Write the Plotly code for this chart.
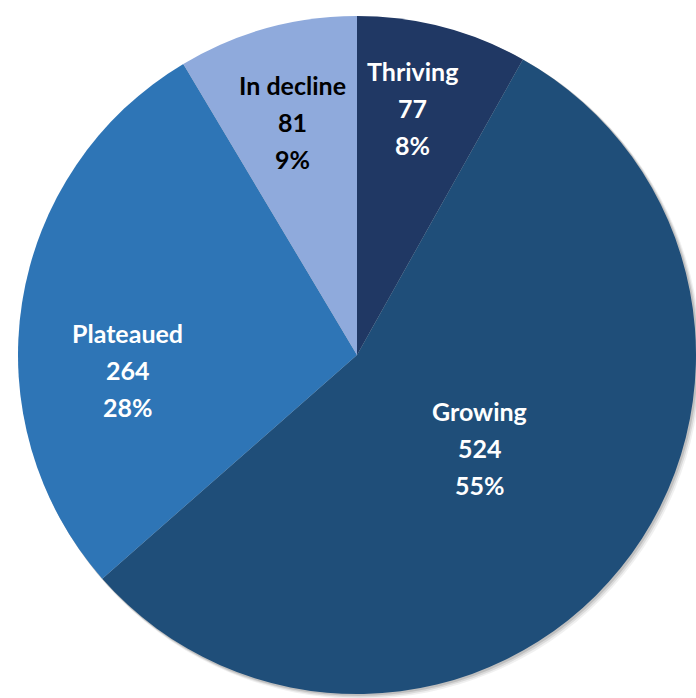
import math
import plotly.graph_objects as go

# Data
categories = ["Thriving", "Growing", "Plateaued", "In decline"]
values = [77, 524, 264, 81]

# Styles
colors = ["#203864", "#1F4E79", "#2E75B6", "#8FAADC"]
text_colors = ["white", "white", "white", "black"]
label_radius_frac = [0.746, 0.454, 0.677, 0.714]
label_angle_offset = [-2.0, -2.0, -12.7, 0.0]

W, H = 696, 698
dom_x = [18 / W, 1.0]
dom_y = [1 / H, 685 / H]

fig = go.Figure(go.Pie(
    labels=categories,
    values=values,
    marker=dict(colors=colors, line=dict(width=0)),
    sort=False,
    direction="clockwise",
    rotation=0,
    textinfo="none",
    hoverinfo="label+value+percent",
    domain=dict(x=dom_x, y=dom_y),
    showlegend=False,
))

# geometry for label placement derived from domain
cx = (dom_x[0] + dom_x[1]) / 2 * W
cy = H - (dom_y[0] + dom_y[1]) / 2 * H
R = min((dom_x[1] - dom_x[0]) * W, (dom_y[1] - dom_y[0]) * H) / 2

# soft shadow behind pie
for off, op in [(5, 0.06), (3.5, 0.09), (2, 0.12)]:
    fig.add_shape(
        type="circle", xref="paper", yref="paper", layer="below",
        x0=(cx - R + off * 0.5) / W, x1=(cx + R + off) / W,
        y0=1 - (cy + R + off) / H, y1=1 - (cy - R + off * 0.5) / H,
        fillcolor=f"rgba(0,0,0,{op})", line=dict(width=0),
    )

total = sum(values)
start = 0.0
line_gap = 37
for i, (cat, v) in enumerate(zip(categories, values)):
    frac = v / total
    mid = start + frac * 360 / 2 + label_angle_offset[i]
    start += frac * 360
    r = R * label_radius_frac[i]
    px = cx + r * math.sin(math.radians(mid))
    py = cy - r * math.cos(math.radians(mid))
    lines = [cat, str(v), f"{round(frac * 100)}%"]
    for k, t in enumerate(lines):
        y = py + (k - 1) * line_gap
        fig.add_annotation(
            x=px / W, y=1 - y / H, xref="paper", yref="paper",
            text=f"<b>{t}</b>", showarrow=False,
            xanchor="center", yanchor="middle",
            font=dict(family="Lato", size=25, color=text_colors[i]),
        )

fig.update_layout(
    width=W, height=H,
    margin=dict(l=0, r=0, t=0, b=0),
    paper_bgcolor="white",
    plot_bgcolor="white",
)

fig.write_html(
    "out.html",
    config={"displayModeBar": False},
    post_script="document.body.style.margin='0';document.body.style.overflow='hidden';",
)
